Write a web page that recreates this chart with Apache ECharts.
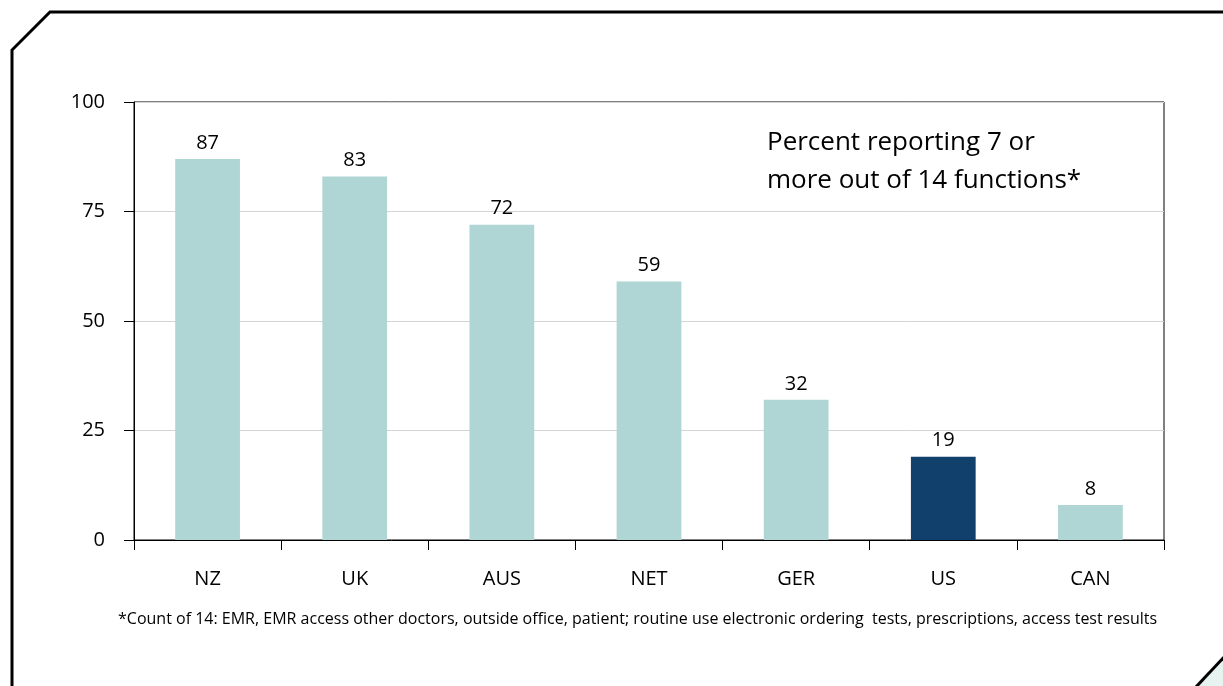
<!DOCTYPE html>
<html>
<head>
<meta charset="utf-8">
<script src="https://cdn.jsdelivr.net/npm/echarts@6/dist/echarts.min.js"></script>
<style>
  html, body { margin: 0; padding: 0; background: #fff; }
  #chart { width: 1223px; height: 686px; }
</style>
</head>
<body>
<div id="chart"></div>
<script>
// Countries and share of practices reporting 7+ of 14 electronic functions
const countries = ['NZ', 'UK', 'AUS', 'NET', 'GER', 'US', 'CAN'];
const percents = [87, 83, 72, 59, 32, 19, 8];
const yTicks = [0, 25, 50, 75, 100];
const highlight = 'US';

const FONT = '"Open Sans", "Noto Sans", sans-serif';
const LIGHT = '#afd5d5';
const DARK = '#10406b';

const chart = echarts.init(document.getElementById('chart'), null, { renderer: 'canvas' });

const barData = countries.map((c, i) => ({
  value: percents[i],
  itemStyle: { color: c === highlight ? DARK : LIGHT }
}));

chart.setOption({
  animation: false,
  backgroundColor: '#fff',
  grid: {
    left: 134, right: 59, top: 102, bottom: 146,
    show: true, borderColor: '#000', borderWidth: 1
  },
  xAxis: {
    type: 'category',
    data: countries,
    axisLine: { show: true, lineStyle: { color: '#000', width: 1 } },
    axisTick: { show: true, length: 10, lineStyle: { color: '#000' }, alignWithLabel: false },
    axisLabel: { color: '#000', fontFamily: FONT, fontSize: 20, margin: 29 },
    splitLine: { show: false }
  },
  yAxis: {
    type: 'value',
    min: yTicks[0],
    max: yTicks[yTicks.length - 1],
    interval: yTicks[1] - yTicks[0],
    axisLine: { show: true, lineStyle: { color: '#000', width: 1 } },
    axisTick: { show: true, length: 10, lineStyle: { color: '#000' } },
    axisLabel: { color: '#000', fontFamily: FONT, fontSize: 20, margin: 29 },
    splitLine: { show: true, lineStyle: { color: '#d4d4d4', width: 1 } }
  },
  series: [{
    type: 'bar',
    data: barData,
    barWidth: '44%',
    label: {
      show: true, position: 'top', distance: 6,
      color: '#000', fontFamily: FONT, fontSize: 20
    }
  }],
  graphic: [
    {
      type: 'polyline',
      shape: { points: [[12, 690], [12, 50], [50, 12], [1230, 12]] },
      style: { stroke: '#000', lineWidth: 3, fill: null }
    },
    {
      type: 'polygon',
      shape: { points: [[1195, 688], [1225, 656], [1225, 688]] },
      style: { fill: '#e7f3f1', stroke: null }
    },
    {
      type: 'polyline',
      shape: { points: [[1195, 688], [1225, 656]] },
      style: { stroke: '#000', lineWidth: 3, fill: null }
    },
    {
      type: 'text',
      left: 767, top: 124,
      style: {
        text: 'Percent reporting 7 or\nmore out of 14 functions*',
        fontFamily: FONT, fontSize: 26, lineHeight: 38, fill: '#000'
      }
    },
    {
      type: 'text',
      left: 118, top: 611,
      style: {
        text: '*Count of 14: EMR, EMR access other doctors, outside office, patient; routine use electronic ordering  tests, prescriptions, access test results',
        fontFamily: FONT, fontSize: 16, fill: '#000'
      }
    }
  ]
});
</script>
</body>
</html>
